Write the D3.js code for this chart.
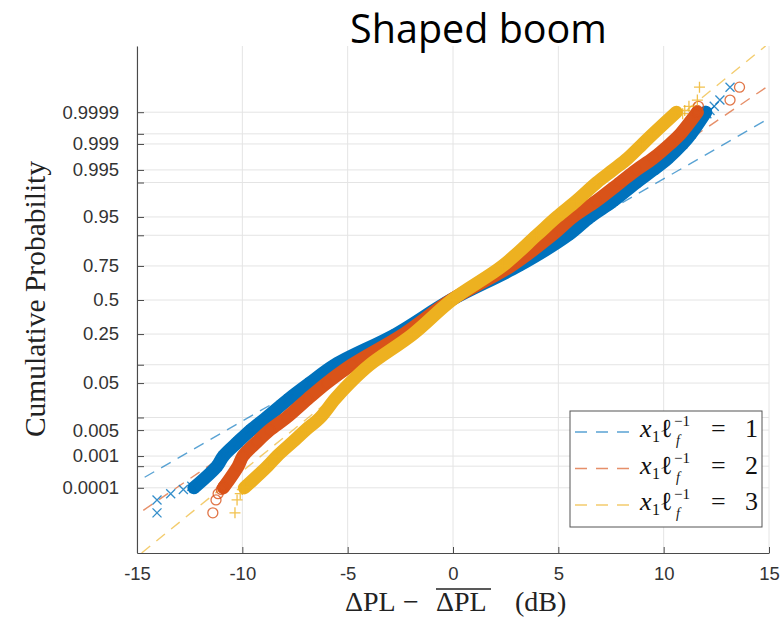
<!DOCTYPE html>
<html><head><meta charset="utf-8">
<script src="https://cdn.jsdelivr.net/npm/d3@7"></script>
<style>body{margin:0;background:#fff}</style>
</head><body><svg id="c" width="782" height="617"></svg>
<script>
// ---------------- data ----------------
const xTicks = [-15, -10, -5, 0, 5, 10, 15];
const probTicks = [0.0001, 0.0005, 0.001, 0.005, 0.01, 0.05, 0.1, 0.25, 0.5, 0.75, 0.9, 0.95, 0.99, 0.995, 0.999, 0.9995, 0.9999];
const probLabels = ["0.0001", "", "0.001", "0.005", "", "0.05", "", "0.25", "0.5", "0.75", "", "0.95", "", "0.995", "0.999", "", "0.9999"];
const legendValues = ["1", "2", "3"];
const colors = ["#0072BD", "#D95319", "#EDB120"];
const markers = ["x", "o", "+"];

// cumulative probability levels along the dense band
const bandP = [0.0001, 0.0005, 0.001, 0.0025, 0.005, 0.01, 0.025, 0.05, 0.1, 0.25, 0.5, 0.75, 0.9, 0.95, 0.975, 0.99, 0.995, 0.9975, 0.999, 0.9995, 0.9999];
const band1X = [-12.3, -11.2, -10.9, -10.2, -9.6, -8.85, -7.8, -6.8, -5.6, -2.7, -0.1, 3.1, 5.45, 6.5, 7.6, 8.7, 9.5, 10.2, 10.9, 11.3, 12.0];
const band2X = [-10.9, -10.2, -9.97, -9.3, -8.7, -7.9, -6.9, -6.0, -4.8, -2.35, -0.1, 2.75, 4.7, 5.7, 6.8, 7.93, 8.7, 9.5, 10.3, 10.8, 11.6];
const band3X = [-9.9, -8.8, -8.35, -7.6, -7.0, -6.3, -5.6, -4.9, -3.95, -1.9, -0.05, 2.35, 3.97, 4.93, 5.85, 6.83, 7.6, 8.3, 9.0, 9.5, 10.6];

// sparse extreme samples
const tailLowP = [0.0000125, 0.0000375, 0.0000625, 0.0000875, 0.0001125];
const tailHighP = [0.9999875, 0.9999625, 0.9999375, 0.9999125, 0.9998875];
const tail1Low = [-14.05, -14.05, -13.4, -12.8, -12.4];
const tail1High = [13.15, 12.67, 12.4, 12.2, 12.05];
const tail2Low = [-11.4, -11.25, -11.15, -11.0, -10.9];
const tail2High = [13.6, 13.15, 11.65, 11.6, 11.55];
const tail3Low = [-10.35, -10.25, -10.1, -10.0, -9.95];
const tail3High = [11.7, 11.6, 11.2, 11.0, 10.9];

// fitted normal reference lines
const refMu = [0, 0, 0];
const refSigma = [4.17, 3.53, 2.95];

// ---------------- helpers ----------------
function probit(p) {
  const a = [-3.969683028665376e+01, 2.209460984245205e+02, -2.759285104469687e+02, 1.383577518672690e+02, -3.066479806614716e+01, 2.506628277459239e+00];
  const b = [-5.447609879822406e+01, 1.615858368580409e+02, -1.556989798598866e+02, 6.680131188771972e+01, -1.328068155288572e+01];
  const c = [-7.784894002430293e-03, -3.223964580411365e-01, -2.400758277161838e+00, -2.549671442405296e+00, 4.374664141464968e+00, 2.938163982698783e+00];
  const d = [7.784695709041462e-03, 3.224671290700398e-01, 2.445134137142996e+00, 3.754408661907416e+00];
  const pl = 0.02425, ph = 1 - pl;
  let q, r;
  if (p < pl) { q = Math.sqrt(-2 * Math.log(p)); return (((((c[0]*q+c[1])*q+c[2])*q+c[3])*q+c[4])*q+c[5]) / ((((d[0]*q+d[1])*q+d[2])*q+d[3])*q+1); }
  if (p <= ph) { q = p - 0.5; r = q*q; return (((((a[0]*r+a[1])*r+a[2])*r+a[3])*r+a[4])*r+a[5])*q / (((((b[0]*r+b[1])*r+b[2])*r+b[3])*r+b[4])*r+1); }
  q = Math.sqrt(-2 * Math.log(1 - p)); return -(((((c[0]*q+c[1])*q+c[2])*q+c[3])*q+c[4])*q+c[5]) / ((((d[0]*q+d[1])*q+d[2])*q+d[3])*q+1);
}

const L = 137, R = 769, T = 46, B = 553;
const svg = d3.select("#c");
const x = d3.scaleLinear().domain([-15, 15]).range([L, R]);
const z = d3.scaleLinear().domain([-5.01, 5.03]).range([B, T]);
const yP = p => z(probit(p));

svg.append("defs").append("clipPath").attr("id", "clip")
  .append("rect").attr("x", L).attr("y", T).attr("width", R - L).attr("height", B - T);

// grid
const grid = svg.append("g");
grid.selectAll("line.v").data(xTicks).join("line")
  .attr("x1", d => x(d)).attr("x2", d => x(d)).attr("y1", T).attr("y2", B)
  .attr("stroke", "#e4e4e4").attr("stroke-width", 1);
grid.selectAll("line.h").data(probTicks).join("line")
  .attr("x1", L).attr("x2", R).attr("y1", d => yP(d)).attr("y2", d => yP(d))
  .attr("stroke", "#e4e4e4").attr("stroke-width", 1);

// title
svg.append("text").attr("x", 478.5).attr("y", 43).attr("text-anchor", "middle")
  .attr("font-family", "Open Sans, sans-serif").attr("font-size", 39.5).attr("fill", "#000")
  .text("Shaped boom");

const plot = svg.append("g").attr("clip-path", "url(#clip)");

// reference lines
refSigma.forEach((s, i) => {
  const zs = z.domain();
  plot.append("line")
    .attr("x1", x(refMu[i] + s * zs[0])).attr("y1", z(zs[0]))
    .attr("x2", x(refMu[i] + s * zs[1])).attr("y2", z(zs[1]))
    .attr("stroke", colors[i]).attr("stroke-opacity", 0.65).attr("stroke-width", 1.4)
    .attr("stroke-dasharray", "11,8");
});

function drawMarker(g, type, cx, cy, col, op) {
  const s = 4.5;
  let el;
  if (type === "x") {
    el = g.append("path").attr("d", `M${cx-s},${cy-s}L${cx+s},${cy+s}M${cx-s},${cy+s}L${cx+s},${cy-s}`);
  } else if (type === "+") {
    el = g.append("path").attr("d", `M${cx-s-1},${cy}L${cx+s+1},${cy}M${cx},${cy-s-1}L${cx},${cy+s+1}`);
  } else {
    el = g.append("circle").attr("cx", cx).attr("cy", cy).attr("r", 5);
  }
  el.attr("stroke", col).attr("stroke-width", 1.3).attr("fill", "none").attr("stroke-opacity", op);
}

const bands = [band1X, band2X, band3X];
const lows = [tail1Low, tail2Low, tail3Low];
const highs = [tail1High, tail2High, tail3High];
const line = d3.line().x(d => x(d[0])).y(d => yP(d[1])).curve(d3.curveCatmullRom);

bands.forEach((bx, i) => {
  const g = plot.append("g");
  const pts = bx.map((v, j) => [v, bandP[j]]);
  g.append("path").attr("d", line(pts)).attr("fill", "none")
    .attr("stroke", colors[i]).attr("stroke-width", 13).attr("stroke-linecap", "round");
  pts.forEach(p => drawMarker(g, markers[i], x(p[0]), yP(p[1]), colors[i], 0.8));
  lows[i].forEach((v, j) => drawMarker(g, markers[i], x(v), yP(tailLowP[j]), colors[i], 0.8));
  highs[i].forEach((v, j) => drawMarker(g, markers[i], x(v), yP(tailHighP[j]), colors[i], 0.8));
});

// axes
const axL = svg.append("g").attr("transform", `translate(${L},0)`)
  .call(d3.axisLeft(z).tickValues(probTicks.map(probit)).tickFormat((d, i) => probLabels[i])
    .tickSizeInner(-7).tickSizeOuter(0).tickPadding(18));
const axB = svg.append("g").attr("transform", `translate(0,${B})`)
  .call(d3.axisBottom(x).tickValues(xTicks).tickFormat(d => String(d))
    .tickSizeInner(-6).tickSizeOuter(0).tickPadding(14));
[axL, axB].forEach(a => {
  a.select(".domain").attr("stroke", "#4a4a4a").attr("stroke-width", 1.1);
  a.selectAll(".tick line").attr("stroke", "#4a4a4a");
  a.selectAll("text").attr("font-family", "Liberation Sans, Arial, sans-serif").attr("font-size", 18.5).attr("fill", "#333");
});

// axis labels
svg.append("text").attr("transform", "translate(45,299) rotate(-90)").attr("text-anchor", "middle")
  .attr("font-family", "Liberation Serif, serif").attr("font-size", 29.5).attr("fill", "#222")
  .text("Cumulative Probability");

const xl = svg.append("text").attr("font-family", "Liberation Serif, serif").attr("font-size", 28).attr("fill", "#222").attr("y", 610.5);
xl.append("tspan").attr("x", 345).text("ΔPL");
xl.append("tspan").attr("x", 403).text("−");
xl.append("tspan").attr("x", 436).text("ΔPL");
xl.append("tspan").attr("x", 515).text("(dB)");
svg.append("line").attr("x1", 436).attr("x2", 491).attr("y1", 589).attr("y2", 589).attr("stroke", "#222").attr("stroke-width", 1.3);

// legend
const lg = svg.append("g");
lg.append("rect").attr("x", 570).attr("y", 411).attr("width", 192).attr("height", 116)
  .attr("fill", "#fff").attr("stroke", "#555").attr("stroke-width", 1);
legendValues.forEach((v, i) => {
  const cy = 432 + i * 36.5;
  const base = cy + 5;
  lg.append("line").attr("x1", 575).attr("x2", 637).attr("y1", cy).attr("y2", cy)
    .attr("stroke", colors[i]).attr("stroke-opacity", 0.65).attr("stroke-width", 1.4).attr("stroke-dasharray", "12,9");
  const t = lg.append("text").attr("font-family", "Liberation Serif, DejaVu Serif, serif").attr("fill", "#111")
    .attr("font-size", 26).attr("y", base);
  t.append("tspan").attr("x", 640).attr("y", base).attr("font-style", "italic").text("x");
  t.append("tspan").attr("x", 652).attr("y", base + 5).attr("font-size", 16).text("1");
  t.append("tspan").attr("x", 660).attr("y", base).text("ℓ");
  t.append("tspan").attr("x", 674).attr("y", base - 11).attr("font-size", 15).text("−1");
  t.append("tspan").attr("x", 676).attr("y", base + 8).attr("font-size", 14).attr("font-style", "italic").text("f");
  t.append("tspan").attr("x", 711).attr("y", base).text("=");
  t.append("tspan").attr("x", 745).attr("y", base).text(v);
});
</script>
</body></html>
